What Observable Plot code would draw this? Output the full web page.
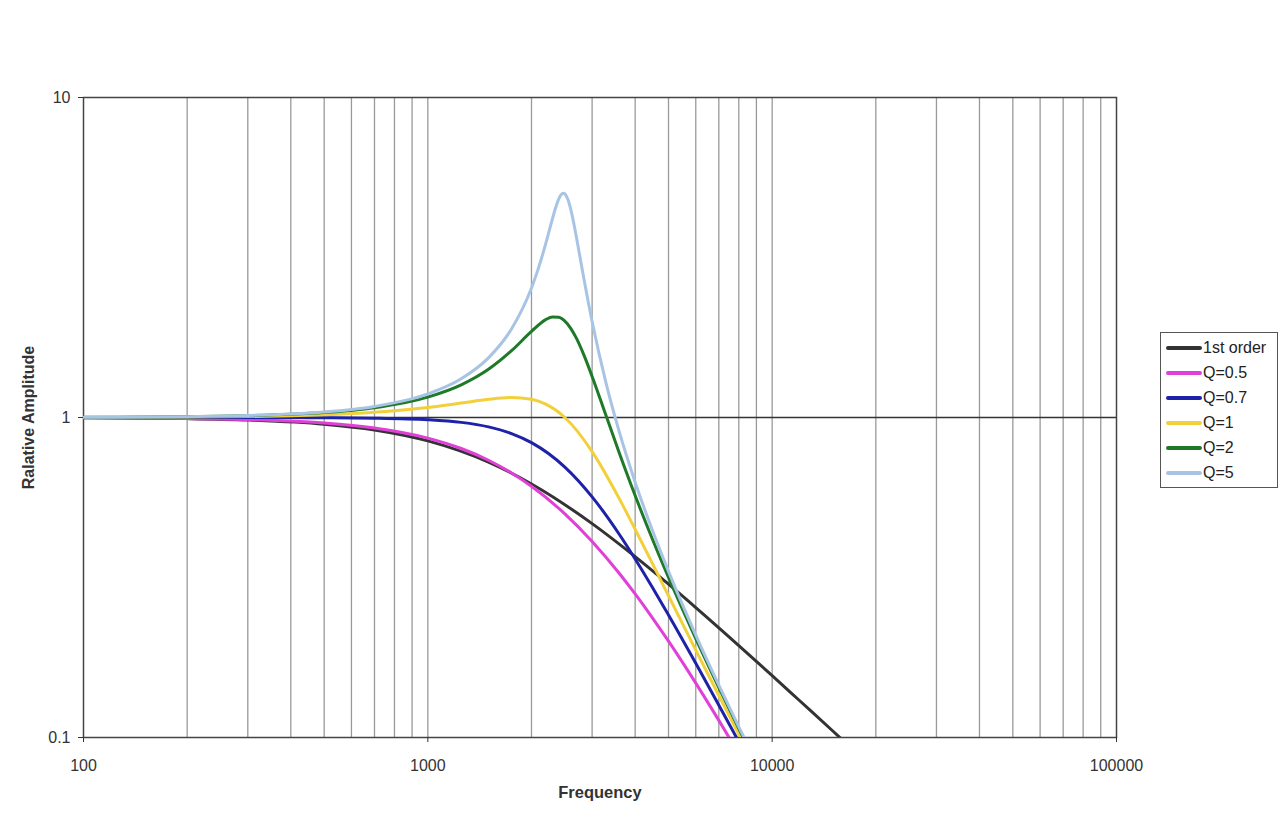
<!DOCTYPE html>
<html>
<head>
<meta charset="utf-8">
<script src="https://cdn.jsdelivr.net/npm/d3@7"></script>
<script src="https://cdn.jsdelivr.net/npm/@observablehq/plot@0.6"></script>
<style>
  html, body { margin: 0; padding: 0; background: #fff; overflow: hidden; }
  #wrap { position: relative; width: 1280px; height: 820px; font-family: "Liberation Sans", Arial, sans-serif; }
  #legend { position: absolute; left: 1160px; top: 332px; width: 118px; height: 156px; border: 1.5px solid #555; box-sizing: border-box; background: #fff; padding-top: 2px; }
  .row { display: flex; align-items: center; height: 25px; font-size: 16px; color: #222; }
  .sw { width: 36px; height: 4px; margin-left: 5px; margin-right: 1px; border-radius: 2px; }
</style>
</head>
<body>
<div id="wrap"></div>
<script>
// ---- data ----
const seriesNames = ["1st order", "Q=0.5", "Q=0.7", "Q=1", "Q=2", "Q=5"];
const seriesColors = ["#333333", "#e040d8", "#1e22a8", "#f2d03a", "#1e7a28", "#a8c4e4"];

const freqFirst = [100, 200, 300, 500, 700, 1000, 1500, 2000, 3000, 4000, 5000, 6000, 8000, 10000, 12000, 15000, 17000];
const ampFirst  = [0.998, 0.9921, 0.9824, 0.9534, 0.9143, 0.845, 0.7252, 0.6199, 0.466, 0.3674, 0.3013, 0.2547, 0.1938, 0.1561, 0.1305, 0.1048, 0.0925];

const freqQ05 = [100, 200, 300, 400, 500, 700, 1000, 1250, 1500, 1750, 2000, 2500, 3000, 3600, 4000, 4500, 5000, 6000, 7000, 8000];
const ampQ05  = [0.9984, 0.9936, 0.9858, 0.975, 0.9615, 0.9273, 0.8621, 0.8, 0.7353, 0.6711, 0.6098, 0.5, 0.4098, 0.3254, 0.2809, 0.2358, 0.2, 0.1479, 0.1131, 0.089];

const freqQ07 = [100, 200, 300, 400, 500, 700, 1000, 1250, 1500, 1750, 2000, 2500, 3000, 3600, 4000, 4500, 5000, 6000, 7000, 8000, 9000];
const ampQ07  = [1.0, 0.9999, 0.9996, 0.9992, 0.9984, 0.9954, 0.9843, 0.9655, 0.9348, 0.8908, 0.8346, 0.7, 0.565, 0.431, 0.3614, 0.2932, 0.2414, 0.1705, 0.1262, 0.097, 0.0765];

const freqQ1 = [100, 200, 300, 400, 500, 700, 1000, 1250, 1500, 1750, 2000, 2200, 2500, 3000, 3600, 4000, 4500, 5000, 6000, 7000, 8000, 9000];
const ampQ1  = [1.0008, 1.0032, 1.0072, 1.0127, 1.0198, 1.0382, 1.0748, 1.1094, 1.1399, 1.1546, 1.1399, 1.1008, 1.0, 0.7824, 0.5567, 0.4475, 0.348, 0.2774, 0.1876, 0.1353, 0.1023, 0.0801];

const freqQ2 = [100, 200, 300, 400, 500, 700, 1000, 1250, 1500, 1750, 2000, 2200, 2300, 2400, 2500, 2600, 2700, 2850, 3000, 3300, 3600, 4000, 4500, 5000, 6000, 7000, 8000, 9000];
const ampQ2  = [1.0014, 1.0056, 1.0127, 1.0228, 1.0361, 1.0728, 1.1581, 1.2649, 1.4148, 1.6167, 1.8582, 2.0224, 2.062, 2.0561, 2.0, 1.8998, 1.7697, 1.5529, 1.344, 1.0067, 0.7736, 0.5704, 0.4142, 0.3162, 0.2037, 0.1432, 0.1066, 0.0827];

const freqQ5 = [100, 200, 300, 400, 500, 700, 1000, 1250, 1500, 1750, 2000, 2100, 2200, 2300, 2350, 2400, 2450, 2475, 2500, 2550, 2600, 2650, 2700, 2775, 2850, 3000, 3300, 3600, 4000, 4500, 5000, 6000, 7000, 8000, 9000];
const ampQ5  = [1.0016, 1.0063, 1.0143, 1.0257, 1.0408, 1.0831, 1.1851, 1.3216, 1.5357, 1.8908, 2.5384, 2.9502, 3.4949, 4.1721, 4.5224, 4.8218, 5.001, 5.0252, 5.0, 4.8086, 4.4756, 4.075, 3.6676, 3.1135, 2.6561, 1.9952, 1.2691, 0.8996, 0.6279, 0.4408, 0.3304, 0.209, 0.1457, 0.108, 0.0835];

const gridFreqs = [200, 300, 400, 500, 600, 700, 800, 900, 1000, 2000, 3000, 4000, 5000, 6000, 7000, 8000, 9000, 10000, 20000, 30000, 40000, 50000, 60000, 70000, 80000, 90000];
const xTicks = [100, 1000, 10000, 100000];
const yTicks = [0.1, 1, 10];

// build table from arrays
const seriesFreqs = [freqFirst, freqQ05, freqQ07, freqQ1, freqQ2, freqQ5];
const seriesAmps = [ampFirst, ampQ05, ampQ07, ampQ1, ampQ2, ampQ5];
const rows = [];
seriesNames.forEach((name, i) => {
  seriesFreqs[i].forEach((f, j) => rows.push({series: name, f, a: seriesAmps[i][j]}));
});

const chart = Plot.plot({
  width: 1280,
  height: 820,
  marginTop: 97,
  marginBottom: 83,
  marginLeft: 83,
  marginRight: 164,
  style: {fontFamily: "'Liberation Sans', Arial, sans-serif", fontSize: "16px", color: "#333", background: "#fff"},
  x: {type: "log", domain: [100, 100000]},
  y: {type: "log", domain: [0.1, 10]},
  color: {domain: seriesNames, range: seriesColors},
  marks: [
    Plot.ruleX(gridFreqs, {stroke: "#9a9a9a", strokeWidth: 1.3}),
    Plot.ruleY([1], {stroke: "#333", strokeWidth: 1.3}),
    Plot.frame({stroke: "#444", strokeWidth: 1.5}),
    Plot.line(rows, {x: "f", y: "a", z: "series", stroke: "series", strokeWidth: 3, curve: "monotone-x", clip: true}),
    Plot.axisX({ticks: xTicks, tickFormat: d => String(d), tickSize: 5, tickPadding: 17, label: null, stroke: "#333", fontSize: 16}),
    Plot.axisY({ticks: yTicks, tickFormat: d => String(d), tickSize: 5, tickPadding: 8, label: null, stroke: "#333", fontSize: 16}),
    Plot.text(["Frequency"], {frameAnchor: "bottom", dy: 60, fontWeight: "bold", fontSize: 16.5, fill: "#333", textAnchor: "middle"}),
    Plot.text(["Ralative Amplitude"], {frameAnchor: "left", dx: -55, rotate: -90, fontWeight: "bold", fontSize: 16, fill: "#333", textAnchor: "middle"})
  ]
});

const wrap = document.getElementById("wrap");
wrap.appendChild(chart);

const legend = document.createElement("div");
legend.id = "legend";
seriesNames.forEach((name, i) => {
  const row = document.createElement("div");
  row.className = "row";
  const sw = document.createElement("div");
  sw.className = "sw";
  sw.style.background = seriesColors[i];
  const lab = document.createElement("span");
  lab.textContent = name;
  row.appendChild(sw);
  row.appendChild(lab);
  legend.appendChild(row);
});
wrap.appendChild(legend);
</script>
</body>
</html>
